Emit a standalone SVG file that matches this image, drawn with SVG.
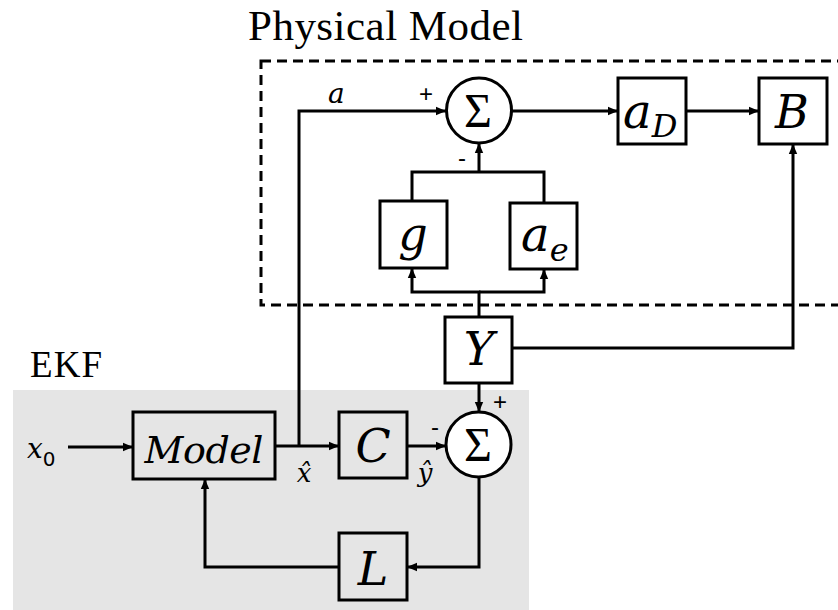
<svg xmlns="http://www.w3.org/2000/svg" width="838" height="610" viewBox="0 0 838 610">
<style>
.box{fill:#fff;stroke:#000;stroke-width:3}
.gbox{fill:#e5e5e5;stroke:#000;stroke-width:3}
.sum{fill:#fff;stroke:#000;stroke-width:3}
.ln{fill:none;stroke:#000;stroke-width:3}
.arr{marker-end:url(#ah)}
.math{font-family:"DejaVu Serif",serif;font-style:italic;fill:#000}
.big{font-size:46px}
.sig{font-family:"Liberation Serif",serif;font-size:48px;text-anchor:middle}
.title{font-family:"Liberation Serif",serif;fill:#000}
.sign{font-family:"Liberation Sans",sans-serif;font-size:24px;text-anchor:middle}
</style>
<defs>
<marker id="ah" markerUnits="userSpaceOnUse" markerWidth="12" markerHeight="10" refX="10" refY="5" orient="auto">
<path d="M0,0.8 L10,5 L0,9.2 Z" fill="#000"/>
</marker>
</defs>
<rect width="838" height="610" fill="#fff"/>
<g id="physical-model-frame">
<rect x="261" y="61" width="600" height="244" fill="none" stroke="#000" stroke-width="3" stroke-dasharray="10 6"/>
<text class="title" x="248" y="40" font-size="43" textLength="275">Physical Model</text>
</g>
<g id="ekf-frame">
<rect x="13" y="390" width="516" height="222" fill="#e5e5e5"/>
<text class="title" x="30" y="377" font-size="37" textLength="72">EKF</text>
</g>
<g id="connectors">
<path class="ln arr" d="M68,447 H133"/>
<path class="ln arr" d="M275,446 H339"/>
<path class="ln arr" d="M299,446 V111 H446"/>
<path class="ln arr" d="M407,446 H446"/>
<path class="ln arr" d="M479,383 V412"/>
<path class="ln arr" d="M479,477 V567 H407"/>
<path class="ln arr" d="M339,567 H205 V479"/>
<path class="ln arr" d="M512,111 H618"/>
<path class="ln arr" d="M686,111 H759"/>
<path class="ln arr" d="M512,348 H793 V144"/>
<path class="ln arr" d="M479,317 V292 H412 V268"/>
<path class="ln arr" d="M479,292 H544 V269"/>
<path class="ln" d="M412,201 V172 H544 V203"/>
<path class="ln arr" d="M479,172 V143"/>
</g>
<g id="sum-top">
<circle class="sum" cx="479" cy="110.5" r="32.5"/>
<text class="sig" x="478" y="127">Σ</text>
</g>
<g id="aD">
<rect class="box" x="618" y="78" width="68" height="66"/>
<text class="math" x="623" y="128" font-size="48">a<tspan font-size="32" dy="9">D</tspan></text>
</g>
<g id="B">
<rect class="box" x="759" y="78" width="68" height="66"/>
<text class="math big" x="792" y="128" text-anchor="middle">B</text>
</g>
<g id="g">
<rect class="box" x="380" y="201" width="67" height="67"/>
<text class="math big" x="413" y="250" text-anchor="middle">g</text>
</g>
<g id="ae">
<rect class="box" x="510" y="203" width="67" height="66"/>
<text class="math" x="521" y="251" font-size="48">a<tspan font-size="32" dy="10">e</tspan></text>
</g>
<g id="Y">
<rect class="box" x="445" y="317" width="67" height="66"/>
<text class="math big" x="479" y="365" text-anchor="middle">Y</text>
</g>
<g id="Model">
<rect class="gbox" x="133" y="412" width="142" height="67"/>
<text class="math" x="204" y="463" font-size="38" text-anchor="middle" textLength="119">Model</text>
</g>
<g id="C">
<rect class="gbox" x="339" y="412" width="68" height="66"/>
<text class="math big" x="373" y="462" text-anchor="middle">C</text>
</g>
<g id="sum-bottom">
<circle class="sum" cx="478.5" cy="444.5" r="32.5"/>
<text class="sig" x="478" y="461">Σ</text>
</g>
<g id="L">
<rect class="gbox" x="339" y="533" width="68" height="67"/>
<text class="math big" x="373" y="585" text-anchor="middle">L</text>
</g>
<g id="labels">
<text class="math" x="328" y="103" font-size="28">a</text>
<text class="sign" x="426" y="102">+</text>
<text class="sign" x="462" y="166">-</text>
<text class="sign" x="500" y="410">+</text>
<text class="sign" x="435" y="435">-</text>
<text class="math" x="27" y="458" font-size="28">x<tspan font-family="DejaVu Sans" font-style="normal" font-size="20" dy="8">0</tspan></text>
<text class="math" x="304" y="482" font-size="26" text-anchor="middle">x̂</text>
<text class="math" x="425" y="482" font-size="26" text-anchor="middle">ŷ</text>
</g>
</svg>
